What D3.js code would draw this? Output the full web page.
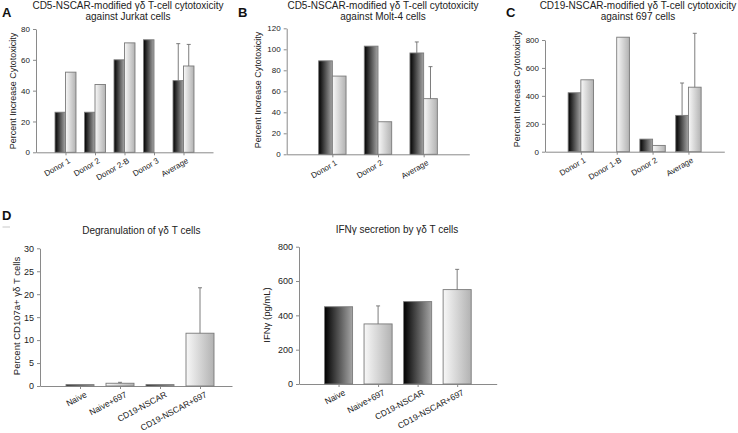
<!DOCTYPE html>
<html><head><meta charset="utf-8">
<script src="https://cdn.jsdelivr.net/npm/d3@7"></script>
<style>
html,body{margin:0;padding:0;background:#fff;}
svg{display:block;font-family:"Liberation Sans",Arial,sans-serif;}
</style></head>
<body>
<svg id="chart" width="738" height="433"></svg>
<script>
// ---------- DATA ----------
const aCategories = ["Donor 1", "Donor 2", "Donor 2-B", "Donor 3", "Average"];
const aDark = [26, 26, 60, 73, 46.5];
const aLight = [52, 44, 71, null, 56];
const aDarkErr = [0, 0, 0, 0, 24];
const aLightErr = [0, 0, 0, 0, 14];
const aTicks = [0, 20, 40, 60, 80];

const bCategories = ["Donor 1", "Donor 2", "Average"];
const bDark = [89, 103, 96.5];
const bLight = [74.5, 31, 53];
const bDarkErr = [0, 0, 10.5];
const bLightErr = [0, 0, 30.5];
const bTicks = [0, 20, 40, 60, 80, 100, 120];

const cCategories = ["Donor 1", "Donor 1-B", "Donor 2", "Average"];
const cDark = [422, 0, 90, 260];
const cLight = [515, 820, 45, 462];
const cDarkErr = [0, 0, 0, 232];
const cLightErr = [0, 0, 0, 386];
const cTicks = [0, 200, 400, 600, 800];

const dCategories = ["Naive", "Naive+697", "CD19-NSCAR", "CD19-NSCAR+697"];
const dShade = ["dark", "light", "dark", "light"];
const degranValues = [0.3, 0.6, 0.3, 11.5];
const degranErr = [0, 0.2, 0, 9.9];
const degranTicks = [0, 5, 10, 15, 20, 25, 30];
const ifnValues = [450, 350, 480, 550];
const ifnErr = [0, 105, 0, 118];
const ifnTicks = [0, 200, 400, 600, 800];

// ---------- DRAW ----------
const svg = d3.select("#chart");
const defs = svg.append("defs");
function grad(id, c0, c1) {
  const g = defs.append("linearGradient").attr("id", id)
    .attr("x1", "0").attr("x2", "1").attr("y1", "0").attr("y2", "0");
  g.append("stop").attr("offset", "0").attr("stop-color", c0);
  g.append("stop").attr("offset", "1").attr("stop-color", c1);
}
grad("darkGrad", "#000000", "#a6a6a6");
grad("lightGrad", "#f8f8f8", "#b2b2b2");

const AXIS = "#8a8a8a";
const BAR_STROKE = "#7a7a7a";

function panel(cfg) {
  const g = svg.append("g");
  const x = d3.scaleLinear().domain(cfg.xDomain).range(cfg.xRange);
  const y = d3.scaleLinear().domain([0, cfg.ticks[cfg.ticks.length - 1]]).range(cfg.yRange);
  const y0 = y(0);

  // axes
  const ya = g.append("g").attr("transform", `translate(${cfg.xRange[0]},0)`)
    .call(d3.axisLeft(y).tickValues(cfg.ticks).tickSize(3).tickSizeOuter(0).tickPadding(3));
  const xa = g.append("g").attr("transform", `translate(0,${y0})`)
    .call(d3.axisBottom(x).tickValues(d3.range(1, cfg.cats.length + 1))
      .tickFormat(i => cfg.cats[i - 1]).tickSize(3).tickSizeOuter(0));
  [ya, xa].forEach(a => {
    a.select(".domain").attr("stroke", AXIS);
    a.selectAll(".tick line").attr("stroke", AXIS);
    a.selectAll("text").attr("fill", "#222").attr("font-family", "Liberation Sans, Arial, sans-serif");
  });
  ya.selectAll("text").attr("font-size", cfg.tickFont);
  xa.selectAll("text").attr("font-size", cfg.catFont)
    .attr("text-anchor", "end").attr("x", 0).attr("y", 0).attr("dy", "0.72em")
    .attr("transform", `translate(${cfg.labOff[0]},${cfg.labOff[1]}) rotate(${cfg.angle})`);

  // bars
  const bars = [];
  cfg.series.forEach(s => {
    s.values.forEach((v, i) => {
      if (v === null || v === 0) return;
      const c = i + 1;
      const x0 = s.side === "left" ? c - cfg.bw : s.side === "right" ? c : c - cfg.bw / 2;
      bars.push({x0, v, err: s.err ? s.err[i] : 0, shade: s.shade ? s.shade[i] : s.fill});
    });
  });
  g.selectAll("rect.bar").data(bars).join("rect").attr("class", "bar")
    .attr("x", d => x(d.x0)).attr("width", d => x(d.x0 + cfg.bw) - x(d.x0))
    .attr("y", d => y(d.v)).attr("height", d => y0 - y(d.v))
    .attr("fill", d => d.shade === "dark" ? "url(#darkGrad)" : "url(#lightGrad)")
    .attr("stroke", BAR_STROKE).attr("stroke-width", 0.9);

  const eb = bars.filter(d => d.err > 0);
  const cx = d => x(d.x0 + cfg.bw / 2);
  g.selectAll("line.err").data(eb).join("line").attr("class", "err")
    .attr("x1", cx).attr("x2", cx).attr("y1", d => y(d.v)).attr("y2", d => y(d.v + d.err))
    .attr("stroke", "#6e6e6e").attr("stroke-width", 0.9);
  g.selectAll("line.cap").data(eb).join("line").attr("class", "cap")
    .attr("x1", d => cx(d) - 2).attr("x2", d => cx(d) + 2)
    .attr("y1", d => y(d.v + d.err)).attr("y2", d => y(d.v + d.err))
    .attr("stroke", "#6e6e6e").attr("stroke-width", 0.9);

  // y label
  g.append("text").attr("transform", `translate(${cfg.yLab[0]},${cfg.yLab[1]}) rotate(-90)`)
    .attr("text-anchor", "middle").attr("dy", "0.35em").attr("font-size", cfg.yLabFont)
    .attr("fill", "#222").text(cfg.yLabel);

  // title
  cfg.title.forEach((t, k) => {
    g.append("text").attr("x", cfg.titleX).attr("y", cfg.titleY[k])
      .attr("text-anchor", "middle").attr("font-size", 10).attr("fill", "#222").text(t);
  });
}

panel({
  cats: aCategories, ticks: aTicks, xDomain: [0, 6], xRange: [36, 213], yRange: [152.3, 29], bw: 0.355,
  series: [{values: aDark, err: aDarkErr, side: "left", fill: "dark"},
           {values: aLight, err: aLightErr, side: "right", fill: "light"}],
  tickFont: 8, catFont: 8, angle: -30, labOff: [2, 5],
  yLabel: "Percent Increase Cytotoxicity", yLab: [13, 91], yLabFont: 9,
  title: ["CD5-NSCAR-modified γδ T-cell cytotoxicity", "against Jurkat cells"], titleX: 128, titleY: [9, 19.5]
});
panel({
  cats: bCategories, ticks: bTicks, xDomain: [0, 4], xRange: [286.7, 469.3], yRange: [154.3, 28.3], bw: 0.30,
  series: [{values: bDark, err: bDarkErr, side: "left", fill: "dark"},
           {values: bLight, err: bLightErr, side: "right", fill: "light"}],
  tickFont: 8, catFont: 8, angle: -30, labOff: [2, 5],
  yLabel: "Percent Increase Cytotoxicity", yLab: [257.5, 90], yLabFont: 9,
  title: ["CD5-NSCAR-modified γδ T-cell cytotoxicity", "against Molt-4 cells"], titleX: 383, titleY: [9, 19.5]
});
panel({
  cats: cCategories, ticks: cTicks, xDomain: [0, 5], xRange: [545, 724.3], yRange: [151.7, 40], bw: 0.354,
  series: [{values: cDark, err: cDarkErr, side: "left", fill: "dark"},
           {values: cLight, err: cLightErr, side: "right", fill: "light"}],
  tickFont: 8, catFont: 8, angle: -30, labOff: [2, 5],
  yLabel: "Percent Increase Cytotoxicity", yLab: [517, 89], yLabFont: 9,
  title: ["CD19-NSCAR-modified γδ T-cell cytotoxicity", "against 697 cells"], titleX: 638, titleY: [9, 19.5]
});
panel({
  cats: dCategories, ticks: degranTicks, xDomain: [0, 4.8], xRange: [40, 232], yRange: [386, 248.3], bw: 0.70,
  series: [{values: degranValues, err: degranErr, side: "center", shade: dShade}],
  tickFont: 9, catFont: 8.5, angle: -28, labOff: [4, 5],
  yLabel: "Percent CD107a+ γδ T cells", yLab: [16.5, 316], yLabFont: 9.5,
  title: ["Degranulation of γδ T cells"], titleX: 141.3, titleY: [233.5]
});
panel({
  cats: dCategories, ticks: ifnTicks, xDomain: [0, 5], xRange: [299, 496.7], yRange: [384, 246.7], bw: 0.71,
  series: [{values: ifnValues, err: ifnErr, side: "center", shade: dShade}],
  tickFont: 9, catFont: 8.5, angle: -28, labOff: [4, 5],
  yLabel: "IFNγ (pg/mL)", yLab: [266.7, 315], yLabFont: 9.5,
  title: ["IFNγ secretion by γδ T cells"], titleX: 397, titleY: [232.5]
});

// panel letters
[["A", 2, 17], ["B", 238, 17], ["C", 506, 17], ["D", 2, 220]].forEach(([t, lx, ly]) => {
  svg.append("text").attr("x", lx).attr("y", ly).attr("font-size", 13).attr("font-weight", "bold")
    .attr("fill", "#111").text(t);
});
svg.append("line").attr("x1", 2.5).attr("x2", 10).attr("y1", 227).attr("y2", 227)
  .attr("stroke", "#c8c8c8").attr("stroke-width", 1);
</script>
</body></html>
